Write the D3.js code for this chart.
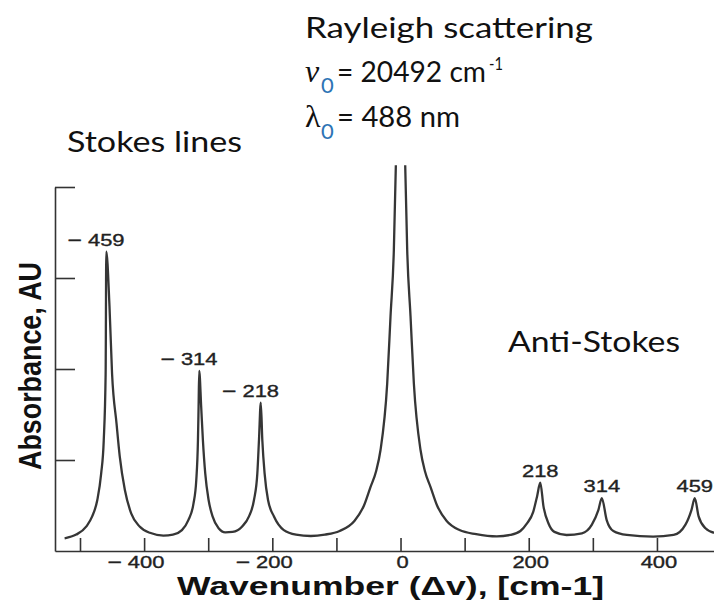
<!DOCTYPE html>
<html>
<head>
<meta charset="utf-8">
<script src="https://cdn.jsdelivr.net/npm/d3@7"></script>
<style>
  html, body { margin: 0; padding: 0; background: #fff; }
  svg { display: block; }
</style>
</head>
<body>
<svg id="chart" width="714" height="606"></svg>
<script>
// Raman spectrum: Raman shift (cm-1) against absorbance (AU)
const wavenumber = [
  -524, -506, -490, -481, -473, -467, -463, -460, -459, -454,
  -450, -443, -438, -430, -420, -407, -391, -370, -355, -341,
  -331, -323, -318.6, -316, -315, -314, -311, -308.3, -304.6, -299.4,
  -293.2, -283.8, -273.4, -262, -247, -236.4, -228.6, -223.4, -220.8, -218,
  -215.6, -212, -206.7, -197.4, -182, -163, -140, -118, -95, -72,
  -57, -47, -38, -31.2, -20.8, -15.6, -10.4, -7.3, 0,
  7.3, 10.4, 15.6, 20.8, 31.2, 38, 47, 57, 72, 92,
  118, 150, 171, 187, 197, 207, 213, 218, 223, 231,
  240, 259, 283, 298.5, 308.6, 314, 321.6, 332, 353, 394,
  426, 444.5, 453.8, 459, 465, 475.7, 489
];
// null marks the off-scale top of the Rayleigh line
const absorbance = [
  0.14, 0.18, 0.27, 0.38, 0.56, 0.85, 1.21, 1.95, 3.29, 2.69,
  1.95, 1.40, 1.04, 0.67, 0.41, 0.27, 0.20, 0.17, 0.18, 0.23,
  0.34, 0.52, 0.78, 1.22, 1.59, 1.98, 1.59, 1.22, 0.85, 0.56,
  0.38, 0.25, 0.205, 0.21, 0.27, 0.38, 0.56, 0.85, 1.22, 1.63,
  1.22, 0.85, 0.56, 0.38, 0.23, 0.18, 0.165, 0.18, 0.22, 0.33,
  0.50, 0.70, 0.88, 1.11, 1.84, 2.58, 3.31, 4.24, null,
  4.24, 3.31, 2.58, 1.84, 1.11, 0.88, 0.70, 0.50, 0.33, 0.23,
  0.185, 0.16, 0.176, 0.22, 0.30, 0.43, 0.60, 0.75, 0.49, 0.30,
  0.21, 0.176, 0.195, 0.29, 0.45, 0.58, 0.34, 0.22, 0.176, 0.157,
  0.176, 0.29, 0.45, 0.58, 0.38, 0.25, 0.20
];

// labelled Raman lines (Stokes negative, anti-Stokes positive)
const peakShift = [-459, -314, -218, 218, 314, 459];
const peakHeight = [3.29, 1.98, 1.63, 0.75, 0.58, 0.58];

const xTicks = [-500, -400, -300, -200, -100, 0, 100, 200, 300, 400];
const xTickLabels = [-400, -200, 0, 200, 400];
const yTicks = [1, 2, 3, 4];

const svg = d3.select("#chart");
const x = d3.scaleLinear().domain([-539, 489]).range([55, 714]);
const y = d3.scaleLinear().domain([0, 4]).range([551, 187]);

const ink = "#333";
const figFont = "'Liberation Sans', Arial, Helvetica, sans-serif";
const noteFont = "Lato, 'Open Sans', sans-serif";

// spectrum trace
const points = wavenumber.map((w, i) => ({ w, a: absorbance[i] }));
const line = d3.line()
  .defined(d => d.a !== null)
  .x(d => x(d.w))
  .y(d => y(d.a))
  .curve(d3.curveMonotoneX);

svg.append("path")
  .datum(points)
  .attr("fill", "none")
  .attr("stroke", "#363636")
  .attr("stroke-width", 2.3)
  .attr("stroke-linejoin", "round")
  .attr("d", line);

// x axis with inward ticks
const gx = svg.append("g")
  .attr("transform", `translate(0,${y(0)})`)
  .call(d3.axisBottom(x).tickValues(xTicks).tickSize(-13).tickSizeOuter(0).tickFormat(""));
gx.select(".domain").attr("stroke", ink).attr("stroke-width", 1.6);
gx.selectAll(".tick line").attr("stroke", ink).attr("stroke-width", 1.6);

// y axis with inward ticks
const gy = svg.append("g")
  .attr("transform", `translate(${x(-539)},0)`)
  .call(d3.axisLeft(y).tickValues(yTicks).tickSize(-20).tickSizeOuter(0).tickFormat(""));
gy.select(".domain").attr("stroke", ink).attr("stroke-width", 1.6);
gy.selectAll(".tick line").attr("stroke", ink).attr("stroke-width", 1.6);

// number with a detached, widened minus sign, digits centred on cx
function signedLabel(g, v, cx, baseline) {
  const digits = String(Math.abs(v));
  const w = digits.length * 12.2;
  g.append("text")
    .attr("x", cx).attr("y", baseline)
    .attr("text-anchor", "middle")
    .attr("textLength", w)
    .attr("lengthAdjust", "spacingAndGlyphs")
    .text(digits);
  if (v < 0) {
    g.append("text")
      .attr("transform", `translate(${cx - w / 2 - 6},${baseline}) scale(1.45,1)`)
      .attr("text-anchor", "end")
      .text("\u2212");
  }
}

const tickText = svg.append("g")
  .attr("font-family", figFont).attr("font-size", 17).attr("fill", "#222")
  .attr("stroke", "#222").attr("stroke-width", 0.35);
xTickLabels.forEach(v => signedLabel(tickText, v, x(v) + 2, 568));

const peakText = svg.append("g")
  .attr("font-family", figFont).attr("font-size", 17).attr("fill", "#222")
  .attr("stroke", "#222").attr("stroke-width", 0.35);
peakShift.forEach((p, i) => signedLabel(peakText, p, x(p), y(peakHeight[i]) - 6));

// axis titles
svg.append("text")
  .attr("x", 390.5).attr("y", 595)
  .attr("text-anchor", "middle")
  .attr("font-family", figFont).attr("font-weight", "bold").attr("font-size", 25)
  .attr("fill", "#111")
  .attr("textLength", 427).attr("lengthAdjust", "spacingAndGlyphs")
  .text("Wavenumber (\u0394v), [cm-1]");

svg.append("text")
  .attr("transform", "translate(41,366) rotate(-90)")
  .attr("text-anchor", "middle")
  .attr("font-family", figFont).attr("font-weight", "bold").attr("font-size", 32)
  .attr("fill", "#111")
  .attr("textLength", 208).attr("lengthAdjust", "spacingAndGlyphs")
  .text("Absorbance, AU");

// annotations
const notes = svg.append("g").attr("font-family", noteFont).attr("font-size", 29).attr("fill", "#111");
const subBlue = "#2e74b5";

notes.append("text").attr("x", 305).attr("y", 38)
  .attr("textLength", 288).attr("lengthAdjust", "spacingAndGlyphs")
  .text("Rayleigh scattering");

notes.append("text").attr("x", 305).attr("y", 82)
  .attr("font-family", "'Liberation Serif', 'DejaVu Serif', serif")
  .attr("font-style", "italic").attr("font-size", 32)
  .text("\u03BD");
notes.append("text").attr("x", 321).attr("y", 93)
  .attr("font-size", 22).attr("fill", subBlue).text("0");
notes.append("text").attr("x", 337).attr("y", 82)
  .attr("textLength", 149).attr("lengthAdjust", "spacingAndGlyphs")
  .text("= 20492 cm");
notes.append("text").attr("x", 489).attr("y", 70)
  .attr("font-size", 18)
  .attr("textLength", 14).attr("lengthAdjust", "spacingAndGlyphs")
  .text("-1");

notes.append("text").attr("x", 305).attr("y", 127)
  .attr("font-family", "'Liberation Serif', 'DejaVu Serif', serif")
  .attr("font-size", 32)
  .text("\u03BB");
notes.append("text").attr("x", 321).attr("y", 139)
  .attr("font-size", 22).attr("fill", subBlue).text("0");
notes.append("text").attr("x", 337).attr("y", 127)
  .attr("textLength", 123).attr("lengthAdjust", "spacingAndGlyphs")
  .text("= 488 nm");

notes.append("text").attr("x", 67).attr("y", 152)
  .attr("textLength", 175).attr("lengthAdjust", "spacingAndGlyphs")
  .text("Stokes lines");

notes.append("text").attr("x", 508).attr("y", 352)
  .attr("textLength", 172).attr("lengthAdjust", "spacingAndGlyphs")
  .text("Anti-Stokes");
</script>
</body>
</html>
